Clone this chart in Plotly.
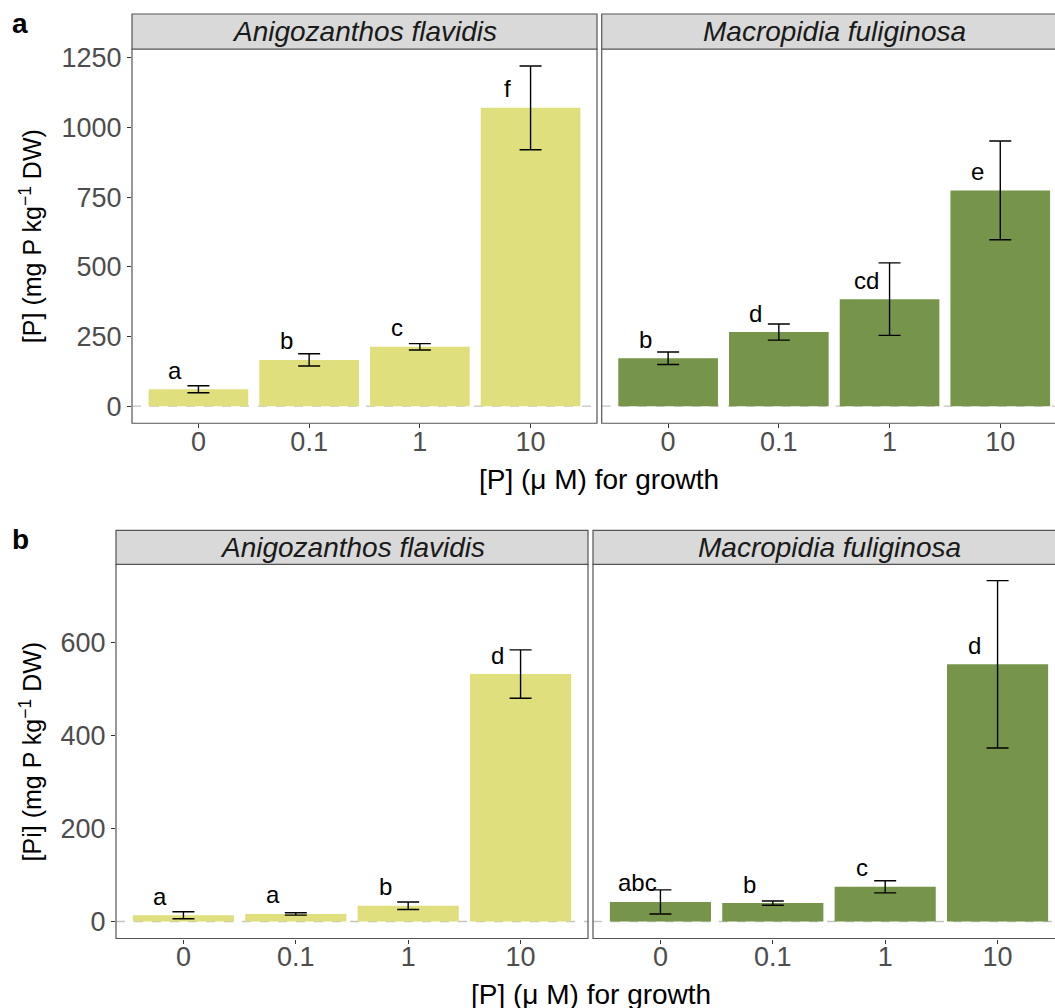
import plotly.graph_objects as go

W, H = 1055, 1008

categories = ["0", "0.1", "1", "10"]
species = ["Anigozanthos flavidis", "Macropidia fuliginosa"]
species_colors = ["#DFDF7D", "#76954A"]

# panel a: total [P]
p_af_mean = [61, 166, 213, 1070]
p_af_se = [12.5, 22, 11.5, 150]
p_af_letters = ["a", "b", "c", "f"]
p_mf_mean = [172, 266, 384, 774]
p_mf_se = [22.5, 29, 130, 177]
p_mf_letters = ["b", "d", "cd", "e"]

# panel b: [Pi]
pi_af_mean = [13.5, 16.3, 33.8, 532]
pi_af_se = [7.5, 2.5, 8, 52]
pi_af_letters = ["a", "a", "b", "d"]
pi_mf_mean = [42, 39.5, 74.6, 553]
pi_mf_se = [26, 4.5, 13, 180]
pi_mf_letters = ["abc", "b", "c", "d"]

rows = [
    dict(label="a", ytitle="[P] (mg P kg<sup>−1</sup> DW)",
         means=[p_af_mean, p_mf_mean], ses=[p_af_se, p_mf_se],
         letters=[p_af_letters, p_mf_letters],
         yticks=[0, 250, 500, 750, 1000, 1250], yrange=[-61, 1281],
         top=49, bottom=423, strip_top=14, lefts=[132, 601.7], pw=465,
         xtitle_y=479, ytitle_x=31, letter_y=23),
    dict(label="b", ytitle="[Pi] (mg P kg<sup>−1</sup> DW)",
         means=[pi_af_mean, pi_mf_mean], ses=[pi_af_se, pi_mf_se],
         letters=[pi_af_letters, pi_mf_letters],
         yticks=[0, 200, 400, 600], yrange=[-36.6, 768],
         top=564, bottom=938, strip_top=530, lefts=[116, 593], pw=472,
         xtitle_y=994, ytitle_x=31, letter_y=539),
]

FONT = "Liberation Sans, Arial, sans-serif"

def px(x):
    return x / W

def py(y):
    # small correction for the vertical mapping observed in the rendering
    yd = (y - 6) / 0.9935
    return 1 - yd / H

fig = go.Figure()
layout = dict(width=W, height=H, margin=dict(l=0, r=0, t=0, b=0),
              plot_bgcolor="white", paper_bgcolor="white", showlegend=False,
              bargap=0.1, font=dict(family=FONT))
shapes = []
annotations = []

idx = 0
for r, row in enumerate(rows):
    for s in range(2):
        idx += 1
        xa = "x" if idx == 1 else f"x{idx}"
        ya = "y" if idx == 1 else f"y{idx}"
        left = row["lefts"][s]
        right_full = left + row["pw"]
        right_vis = min(right_full, W)
        frac = (right_vis - left) / row["pw"]
        xr = [-0.6, -0.6 + 4.2 * frac]

        fig.add_trace(go.Bar(
            x=categories, y=row["means"][s], xaxis=xa, yaxis=ya,
            marker=dict(color=species_colors[s], line=dict(width=0)),
            error_y=dict(type="data", array=row["ses"][s], symmetric=True,
                         color="black", thickness=1.4, width=11),
            hoverinfo="skip"))

        layout["xaxis" if idx == 1 else f"xaxis{idx}"] = dict(
            domain=[px(left), px(right_vis)], anchor=ya, type="category",
            range=xr, showgrid=False, zeroline=False, showline=False,
            ticks="outside", ticklen=4, tickcolor="#333333", tickwidth=1,
            ticklabelstandoff=-10,
            tickfont=dict(size=27, color="#4d4d4d", family=FONT),
            categoryorder="array", categoryarray=categories)
        layout["yaxis" if idx == 1 else f"yaxis{idx}"] = dict(
            domain=[py(row["bottom"]), py(row["top"])], anchor=xa,
            range=row["yrange"], showgrid=False, zeroline=False, showline=False,
            tickvals=row["yticks"] if s == 0 else [],
            showticklabels=(s == 0),
            ticks="outside" if s == 0 else "", ticklen=4, tickcolor="#333333",
            tickwidth=1, tickfont=dict(size=27, color="#4d4d4d", family=FONT))

        # dashed zero line
        shapes.append(dict(type="line", xref=f"{xa} domain", yref=ya,
                           x0=0, x1=1, y0=0, y1=0, layer="below",
                           line=dict(color="#c4c4c4", width=1.3, dash="dash")))
        # panel border
        shapes.append(dict(type="rect", xref="paper", yref="paper",
                           x0=px(left), x1=px(right_full),
                           y0=py(row["bottom"]), y1=py(row["top"]),
                           line=dict(color="#555555", width=1.2),
                           fillcolor="rgba(0,0,0,0)", layer="above"))
        # strip
        shapes.append(dict(type="rect", xref="paper", yref="paper",
                           x0=px(left), x1=px(right_full),
                           y0=py(row["top"]), y1=py(row["strip_top"]),
                           line=dict(color="#555555", width=1.2),
                           fillcolor="#d9d9d9", layer="above"))
        annotations.append(dict(
            text=f"<i>{species[s]}</i>", xref="paper", yref="paper",
            x=px((left + right_full) / 2), y=py((row["top"] + row["strip_top"]) / 2),
            xanchor="center", yanchor="middle", showarrow=False,
            font=dict(size=28, color="#1a1a1a", family=FONT)))

        # significance letters (x given as category index)
        for i, (m, lt) in enumerate(zip(row["means"][s], row["letters"][s])):
            annotations.append(dict(
                text=lt, xref=xa, yref=ya, x=i, y=m, xshift=-23, yshift=19,
                xanchor="center", yanchor="middle", showarrow=False,
                font=dict(size=24, color="black", family=FONT)))

    # axis titles
    annotations.append(dict(
        text="[P] (μ M) for growth", xref="paper", yref="paper",
        x=px((row["lefts"][0] + row["lefts"][1] + row["pw"]) / 2),
        y=py(row["xtitle_y"]), xanchor="center", yanchor="middle",
        showarrow=False, font=dict(size=28, color="black", family=FONT)))
    annotations.append(dict(
        text=row["ytitle"], xref="paper", yref="paper", textangle=-90,
        x=px(row["ytitle_x"]), y=py((row["top"] + row["bottom"]) / 2),
        xanchor="center", yanchor="middle", showarrow=False,
        font=dict(size=25, color="black", family=FONT)))
    annotations.append(dict(
        text=f"<b>{row['label']}</b>", xref="paper", yref="paper",
        x=px(20), y=py(row["letter_y"]), xanchor="center", yanchor="middle",
        showarrow=False, font=dict(size=28, color="black", family=FONT)))

layout["shapes"] = shapes
layout["annotations"] = annotations
fig.update_layout(**layout)
fig.write_html("out.html", config={"displayModeBar": False},
               post_script="document.body.style.margin='0px';"
                           "document.body.style.overflow='hidden';")
